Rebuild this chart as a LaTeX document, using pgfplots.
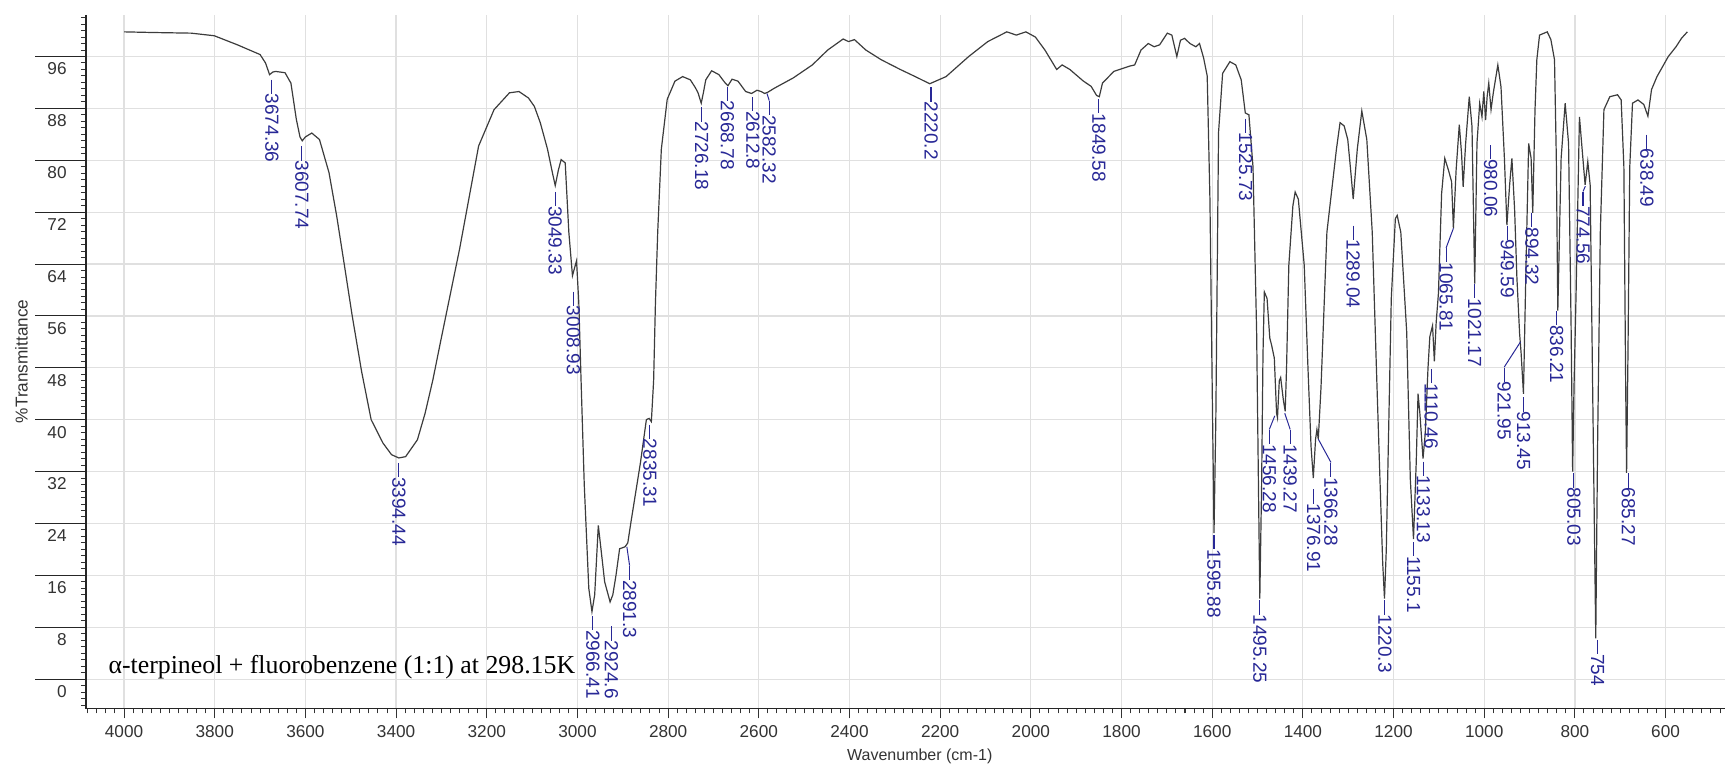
\documentclass[border=0pt]{standalone}
\usepackage{fontspec}
\setmainfont{Liberation Sans}
\newfontfamily\serifT{Liberation Serif}
\usepackage{pgfplots}
\pgfplotsset{compat=1.18}
\definecolor{pkc}{RGB}{40,40,150}
\definecolor{curve}{RGB}{60,60,60}

\pgfplotstableread{
wn T
4000 99.8
3937 99.7
3852 99.6
3801 99.2
3750 97.8
3700 96.3
3688 95.0
3679 93.2
3672 93.6
3666 93.7
3645 93.5
3632 91.9
3620 86.3
3612 83.6
3607 83.0
3600 83.6
3586 84.2
3569 83.2
3548 78.1
3531 71.4
3514 63.8
3497 56.1
3476 47.4
3455 40.0
3429 36.4
3410 34.6
3394 34.1
3379 34.3
3353 36.9
3336 41.0
3319 46.1
3302 52.0
3260 66.3
3218 82.2
3184 87.8
3150 90.4
3129 90.6
3108 89.6
3095 88.3
3082 85.8
3066 81.7
3055 78.0
3049 76.1
3042 78.5
3036 80.1
3027 79.6
3019 68.9
3011 62.2
3006 63.5
3002 64.5
2997 58.0
2992 46.0
2985 30.0
2975 14.0
2968 10.4
2962 13.0
2954 23.7
2948 20.0
2940 15.0
2928 11.9
2922 13.0
2915 16.0
2907 20.1
2895 20.4
2889 21.0
2882 24.2
2861 33.4
2848 40.0
2842 40.2
2837 39.7
2832 46.0
2828 58.0
2823 68.9
2815 81.7
2802 89.4
2785 92.2
2768 92.9
2751 92.4
2740 91.2
2734 90.4
2727 88.8
2722 90.5
2717 92.4
2704 93.8
2688 93.2
2674 91.9
2668 91.5
2659 92.5
2646 92.2
2629 90.6
2616 90.3
2604 90.8
2595 90.6
2587 90.3
2580 90.5
2566 91.1
2524 92.7
2482 94.7
2448 97.0
2414 98.7
2402 98.3
2389 98.6
2364 97.0
2330 95.5
2288 94.0
2255 92.9
2223 91.8
2187 92.9
2137 96.0
2095 98.3
2053 99.8
2032 99.3
2011 99.8
1990 99.0
1969 97.0
1943 94.0
1931 94.7
1914 94.0
1884 92.2
1867 91.4
1855 90.0
1849 89.8
1842 91.9
1817 93.7
1783 94.5
1771 94.7
1757 97.0
1741 98.0
1728 97.5
1716 97.8
1699 99.6
1689 99.3
1678 96.0
1670 98.5
1661 98.8
1649 98.0
1636 97.5
1628 98.0
1619 95.8
1611 93.0
1605 74.0
1600 45.0
1596 22.5
1592 40.0
1586 84.3
1577 93.4
1561 95.2
1548 94.7
1536 92.4
1527 87.3
1519 87.0
1510 79.0
1502 53.5
1498 30.0
1495 12.4
1491 30.0
1488 50.0
1485 59.7
1479 58.7
1473 52.6
1469 51.5
1463 49.5
1458 41.0
1456 40.3
1452 46.0
1449 46.5
1443 43.0
1439 41.3
1436 48.0
1431 63.8
1422 73.0
1417 75.1
1410 74.0
1397 63.8
1389 48.4
1382 35.9
1377 31.0
1372 37.0
1369 38.5
1366 37.0
1360 45.0
1347 68.9
1326 81.7
1318 85.8
1309 85.3
1301 83.2
1294 78.0
1289 74.0
1280 81.7
1270 87.6
1259 83.2
1247 68.9
1238 48.4
1230 30.8
1224 18.0
1220 12.4
1216 20.0
1213 30.8
1205 58.7
1196 71.0
1192 71.5
1184 68.9
1171 53.5
1163 30.8
1156 21.6
1150 33.4
1146 44.0
1142 41.0
1135 34.0
1130 38.0
1124 48.0
1120 52.8
1114 54.5
1110 49.0
1106 55.0
1101 59.5
1094 74.9
1087 80.3
1079 78.5
1072 76.7
1068 69.5
1062 78.5
1055 85.5
1050 81.0
1046.5 75.9
1041 82.6
1033 89.8
1027 85.2
1021 61.0
1016 82.6
1010 88.8
1005 86.7
1001 90.6
997 86.2
993.6 89.8
990 91.9
985 87.8
980 90.4
970 94.7
963 91.3
955.5 80.3
950 70.0
944 76.2
939 80.3
933 72.4
928 62.0
922 53.3
918.6 50.2
913.5 44.0
907.6 64.6
902 82.6
896.6 80.3
893 71.9
888 87.8
884 95.5
878 99.3
861 99.8
853 98.6
845 95.5
841 80.3
837.7 56.8
830.4 80.3
821.5 88.8
814 82.6
808.4 54.4
805 32.0
802 45.0
797.4 59.5
790 86.7
783 80.8
777.5 76.2
771.6 79.8
766.4 76.2
760 40.0
754 6.3
750 36.0
744 68.8
736 87.8
723 89.8
706 90.1
698 89.3
692 79.0
688 45.0
686 31.8
683 50.0
679 79.0
673 88.8
661 89.3
648 88.6
639 86.8
631 90.9
619 92.9
594 96.0
577 97.5
565 98.8
552 99.8
}\spectrum

\tikzset{pklbl/.style={rotate=-90, anchor=west, inner sep=0pt, text=pkc, font=\fontsize{9.5}{10}\selectfont}}
\newcommand{\ldr}{\rule[0.31em]{0.75em}{0.06em}}
\newcommand{\pk}[3]{\node[pklbl] at (axis cs:#1,#2) {\ldr#3};}
\newcommand{\bend}[4]{\draw[pkc, line width=0.5pt] (axis cs:#1,#2) -- (axis cs:#3,#4);}

\begin{document}
\begin{tikzpicture}
\begin{axis}[
  at={(0,0)}, anchor=south west,
  width=819.5pt, height=346.65pt, scale only axis,
  x dir=reverse,
  xmin=469, xmax=4084, ymin=-4.5, ymax=102.4,
  axis line style={draw=none},
  xtick={600,800,...,4000},
  ytick={0,8,...,96},
  minor xtick={480,500,...,4080},
  minor ytick={-4,-3,...,102},
  xtick pos=left, ytick pos=left,
  tick align=outside,
  major tick length=5pt, minor tick length=2.6pt,
  every tick/.style={black!80, line width=0.5pt},
  grid=major,
  major grid style={black!12, line width=0.6pt},
  /pgf/number format/assume math mode=true,
  /pgf/number format/1000 sep={},
  xticklabel style={font=\fontsize{8.6}{10}\selectfont, text=black!80},
  yticklabel style={font=\fontsize{8.6}{10}\selectfont, text=black!80, anchor=north east, inner sep=0pt, xshift=-4.5pt, yshift=-3pt},
  clip=false,
]
\addplot[curve, line width=0.6pt] table[x=wn, y=T] {\spectrum};

\draw[black!85, line width=0.6pt] (axis cs:4084,102.4) -- (axis cs:4084,-4.5) -- (axis cs:469,-4.5);
\pgfplotsinvokeforeach{0,8,...,96}{\draw[black!85, line width=0.5pt] (axis cs:4084,#1) -- ++(-25.5pt,0pt);}

\node[anchor=base west, inner sep=0pt, font=\serifT\fontsize{12.9}{15}\selectfont] at (axis cs:4035,0.8) {α-terpineol + fluorobenzene (1:1) at 298.15K};
\node[font=\fontsize{8}{10}\selectfont, text=black!80] at ([yshift=-24pt]axis cs:2245,-4.5) {Wavenumber (cm-1)};
\node[font=\fontsize{8.6}{10}\selectfont, text=black!80, rotate=90] at ([xshift=-32.2pt]axis cs:4084,49) {\%Transmittance};

\bend{2891}{20.4}{2885}{17.5}
\bend{2582}{90.3}{2577}{89.2}
\bend{1462}{40.6}{1474}{38.5}
\bend{1440}{41.0}{1428}{38.5}
\bend{1366}{37.0}{1338}{33.4}
\bend{1068}{69.5}{1084}{66.5}
\bend{920}{52.0}{956}{48.1}
\bend{777}{76.0}{782}{75.2}

\pk{3674}{92.5}{3674.36}
\pk{3608}{82.2}{3607.74}
\pk{3394}{33.4}{3394.44}
\pk{3049}{75.2}{3049.33}
\pk{3009}{59.8}{3008.93}
\pk{2966}{9.8}{2966.41}
\pk{2925}{8.2}{2924.6}
\pk{2885}{17.5}{2891.3}
\pk{2840}{39.3}{2835.31}
\pk{2726}{88.2}{2726.18}
\pk{2669}{91.4}{2668.78}
\pk{2613}{89.8}{2612.8}
\pk{2577}{89.2}{2582.32}
\pk{2220}{91.3}{2220.2}
\pk{1850}{89.5}{1849.58}
\pk{1526}{86.5}{1525.73}
\pk{1596}{22.3}{1595.88}
\pk{1495}{12.2}{1495.25}
\pk{1474}{38.5}{1456.28}
\pk{1428}{38.5}{1439.27}
\pk{1376}{29.3}{1376.91}
\pk{1338}{33.4}{1366.28}
\pk{1289}{70}{1289.04}
\pk{1219}{12.2}{1220.3}
\pk{1156}{21.2}{1155.1}
\pk{1134}{33.6}{1133.13}
\pk{1117}{47.9}{1110.46}
\pk{1084}{66.5}{1065.81}
\pk{1021}{61}{1021.17}
\pk{986}{82.4}{980.06}
\pk{949}{70}{949.59}
\pk{956}{48.1}{921.95}
\pk{913}{43.5}{913.45}
\pk{895}{71.9}{894.32}
\pk{840}{56.8}{836.21}
\pk{802}{31.8}{805.03}
\pk{782}{75.2}{774.56}
\pk{750}{6.1}{754}
\pk{682}{31.8}{685.27}
\pk{641}{84}{638.49}
\end{axis}
\pgfresetboundingbox
\useasboundingbox (-43pt,-28.35pt) rectangle (819.5pt,354.15pt);
\end{tikzpicture}
\end{document}
